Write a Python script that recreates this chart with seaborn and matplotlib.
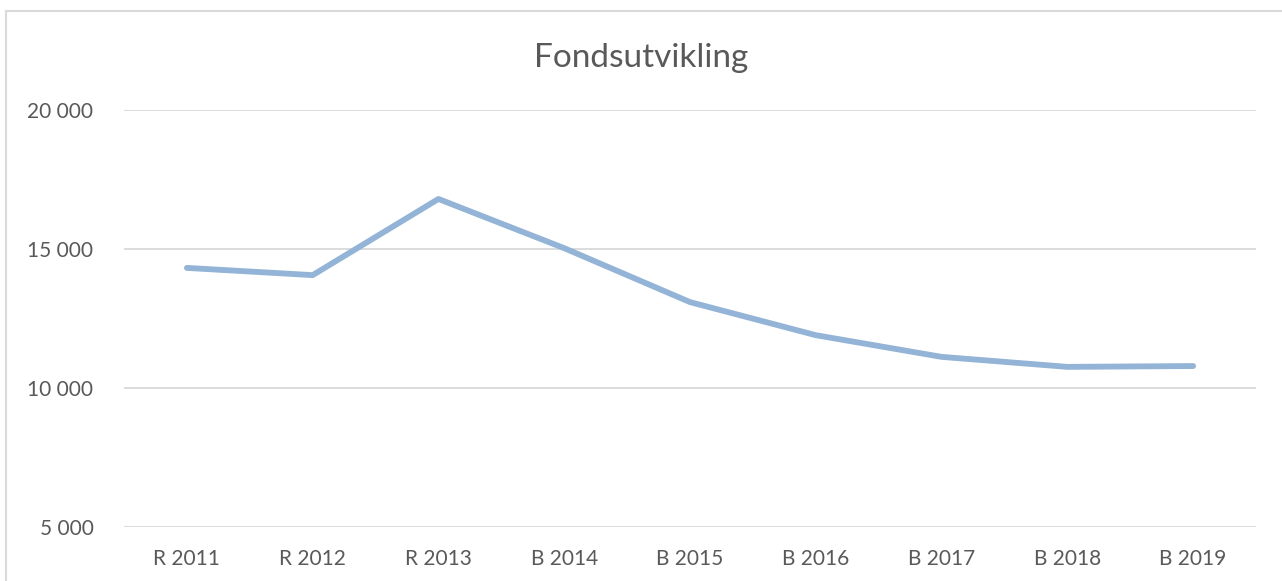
import matplotlib
matplotlib.use("Agg")
import matplotlib.pyplot as plt
import matplotlib.ticker as mticker
import seaborn as sns
import pandas as pd

# data
periods = ['R 2011', 'R 2012', 'R 2013', 'B 2014', 'B 2015',
           'B 2016', 'B 2017', 'B 2018', 'B 2019']
fond = [14320, 14060, 16800, 15030, 13090, 11900, 11120, 10760, 10790]
yticks = [5000, 10000, 15000, 20000]

df = pd.DataFrame({'periode': periods, 'fond': fond})

sns.set_style("white")
plt.rcParams['font.family'] = ['Lato', 'DejaVu Sans']

fig = plt.figure(figsize=(12.82, 5.81), dpi=100)
ax = fig.add_axes([124/1282, 54/581, 1132/1282, 417/581])

sns.lineplot(data=df, x='periode', y='fond', ax=ax, sort=False,
             color='#93b4d6', linewidth=4.2, solid_capstyle='round')

ax.set_xlim(-0.5, len(periods) - 0.5)
ax.set_ylim(5000, 20000)
ax.set_yticks(yticks)
ax.yaxis.set_major_formatter(
    mticker.FuncFormatter(lambda v, p: f"{int(v):,}".replace(',', ' ')))
ax.grid(axis='y', color='#d9d9d9', linewidth=1.3)
ax.set_axisbelow(True)
for s in ax.spines.values():
    s.set_visible(False)
ax.tick_params(axis='both', length=0, labelsize=15, colors='#595959')
ax.tick_params(axis='y', pad=22)
ax.tick_params(axis='x', pad=16)
ax.set_xlabel('')
ax.set_ylabel('')

fig.text(0.5, 1 - 58/581, 'Fondsutvikling', ha='center', va='center',
         fontsize=24, color='#595959')

# chart border (left and top visible)
fig.add_artist(plt.Line2D([6/1282, 6/1282], [0, 1 - 11/581],
                          transform=fig.transFigure, color='#d9d9d9', lw=1.5))
fig.add_artist(plt.Line2D([6/1282, 1], [1 - 11/581, 1 - 11/581],
                          transform=fig.transFigure, color='#d9d9d9', lw=1.5))

fig.savefig('out.png', dpi=100)
